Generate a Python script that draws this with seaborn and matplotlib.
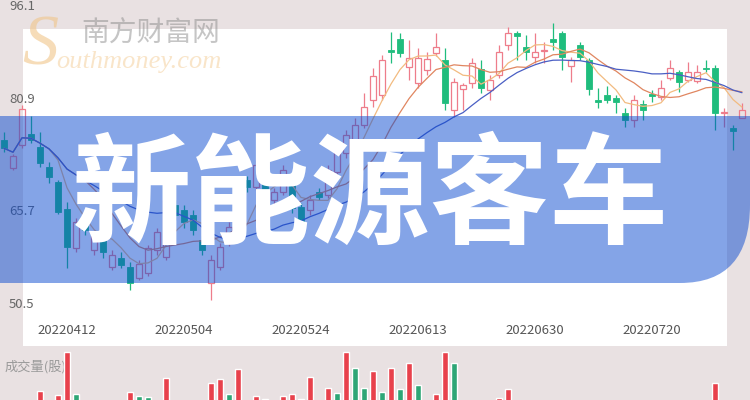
import matplotlib
matplotlib.use("Agg")
import matplotlib.pyplot as plt
import seaborn as sns
import pandas as pd
import numpy as np
from matplotlib.patches import Rectangle, PathPatch
from matplotlib.path import Path

sns.set_theme(style="white")
plt.rcParams['font.family'] = ['Noto Sans CJK SC', 'DejaVu Sans']

# daily candles (price)
opens = [75.7, 71.4, 74.9, 76.6, 74.6, 71.6, 69.3, 65.1, 59.2, 63.5,
         58.9, 60.4, 56.3, 57.7, 56.3, 54.6, 55.4, 58.9, 57.8, 65.8,
         65.0, 64.2, 60.4, 53.9, 56.3, 60.0, 62.2, 69.6, 68.5, 70.3,
         66.5, 67.7, 70.3, 65.5, 65.0, 67.7, 67.3, 70.8, 73.7, 74.9,
         77.9, 81.8, 82.5, 89.4, 91.1, 86.8, 84.4, 86.3, 88.9, 87.9,
         80.2, 83.4, 84.4, 86.5, 83.3, 85.6, 90.2, 92.0, 89.8, 88.3,
         89.2, 91.1, 92.0, 86.9, 90.2, 87.9, 81.8, 82.5, 82.1, 79.8,
         78.7, 81.2, 82.7, 82.2, 85.1, 86.0, 84.8, 84.7, 86.6, 86.6,
         79.8, 77.5, 79.0]
closes = [74.4, 73.2, 80.4, 75.7, 72.2, 70.0, 64.7, 59.3, 63.2, 61.9,
          61.0, 58.6, 58.1, 56.6, 53.9, 56.8, 59.2, 61.6, 66.5, 64.2,
          63.2, 61.9, 58.9, 57.4, 59.3, 62.4, 66.5, 68.5, 71.9, 68.0,
          67.7, 71.1, 65.3, 62.4, 66.5, 67.0, 71.1, 74.1, 76.4, 77.9,
          80.7, 85.4, 87.9, 89.1, 88.9, 88.2, 88.2, 88.0, 89.8, 81.3,
          84.5, 84.1, 87.4, 83.6, 84.8, 89.1, 92.0, 91.5, 89.1, 89.1,
          89.4, 90.6, 88.3, 87.9, 88.3, 83.4, 81.5, 81.8, 81.5, 78.7,
          81.8, 80.2, 82.4, 83.6, 86.6, 84.5, 86.0, 86.0, 86.5, 79.8,
          79.9, 77.0, 80.2]
highs = [76.9, 73.5, 81.0, 79.3, 76.9, 72.3, 69.6, 66.2, 63.8, 64.2,
         61.9, 61.0, 58.9, 58.6, 57.1, 57.4, 59.6, 62.2, 67.3, 66.5,
         65.8, 65.0, 61.0, 58.1, 60.0, 63.2, 67.3, 70.2, 72.6, 71.1,
         68.3, 71.9, 70.8, 66.1, 67.3, 68.3, 71.9, 74.9, 77.2, 79.0,
         82.8, 86.6, 88.6, 92.1, 92.0, 90.9, 89.7, 89.1, 92.0, 89.7,
         85.1, 84.4, 88.2, 87.9, 85.6, 90.2, 92.9, 92.3, 91.7, 92.0,
         90.6, 93.5, 92.3, 88.3, 90.6, 88.2, 83.6, 83.9, 82.5, 80.5,
         82.5, 81.8, 83.3, 84.8, 87.9, 86.3, 87.6, 87.1, 87.9, 87.1,
         80.5, 78.0, 81.3]
lows = [73.8, 71.1, 74.4, 75.2, 71.6, 69.1, 64.4, 56.1, 58.6, 61.2,
        58.1, 57.7, 55.8, 56.1, 52.8, 54.3, 54.9, 58.1, 57.4, 63.5,
        62.3, 61.2, 58.1, 51.3, 55.8, 59.5, 61.9, 67.7, 68.0, 67.3,
        65.9, 67.3, 64.5, 60.4, 64.2, 66.5, 66.8, 70.3, 72.9, 74.4,
        77.5, 80.7, 81.8, 87.4, 88.3, 84.8, 83.6, 85.6, 88.5, 80.2,
        79.2, 80.2, 83.6, 82.8, 81.8, 85.1, 89.4, 87.9, 87.9, 87.4,
        87.4, 89.4, 86.3, 84.5, 87.9, 82.5, 80.5, 81.3, 79.8, 77.6,
        77.6, 78.7, 81.5, 81.8, 84.8, 83.0, 84.5, 84.4, 86.0, 77.2,
        77.6, 74.1, 79.0]

# volume (only the top of the bars shows at the bottom edge)
volume = [40, 35, 45, 38, 59, 42, 55, 98, 56, 40,
          36, 38, 30, 33, 58, 54, 53, 44, 72, 40,
          45, 38, 35, 67, 71, 56, 81, 42, 54, 51,
          40, 54, 56, 51, 73, 40, 62, 57, 98, 82,
          62, 79, 58, 82, 61, 87, 65, 45, 56, 98,
          87, 42, 44, 40, 38, 52, 61, 40, 35, 30,
          28, 36, 45, 30, 28, 42, 32, 25, 27, 35,
          33, 26, 22, 28, 30, 27, 25, 24, 22, 67,
          40, 45, 35]
vol_dir = list("grrgrgrrgg" "rgrgrggrrg" "gggrrgrgrg" "rrrgrgrgrg" "grgrgrgrrr"
               "grrgrrrggr" "rggrgggggg" "rggrrgrrgr" "rgr")

date_labels = ["20220412", "20220504", "20220524", "20220613", "20220630", "20220720"]
date_pos = [7, 20, 33, 46, 59, 72]
price_ticks = [96.1, 80.9, 65.7, 50.5]

W, H = 750, 400
def fx(x):
    return x / W
def fy(y):
    return 1 - y / H

UP = '#ee7d8b'
DOWN = '#1fbd7d'

df = pd.DataFrame({'o': opens, 'c': closes, 'h': highs, 'l': lows})
df['idx'] = np.arange(len(df))
df['ma5'] = df['c'].rolling(5, min_periods=1).mean()
df['ma10'] = df['c'].rolling(10, min_periods=1).mean()
df['ma20'] = df['c'].rolling(20, min_periods=1).mean()

fig = plt.figure(figsize=(7.5, 4), dpi=100, facecolor='#e9e1e2')

# white card behind the chart
fig.add_artist(Rectangle((fx(23), fy(346)), fx(727) - fx(23), fy(29) - fy(346),
                         transform=fig.transFigure, facecolor='white', edgecolor='none', zorder=-2))

# watermark
fig.text(fx(40), fy(47), 'S', family='Liberation Serif', style='italic', fontsize=52,
         color='#f0c58a', alpha=0.6, ha='center', va='center', zorder=-1)
fig.text(fx(56), fy(62), 'outhmoney.com', family='Liberation Serif', style='italic', fontsize=19,
         color='#f5d4a6', alpha=0.6, ha='left', va='center', zorder=-1)
fig.text(fx(151), fy(34), '南方财富网', fontsize=20, color='#8c8c8c', alpha=0.5,
         ha='center', va='center', zorder=-1)

xlim = (-4 / 9, 746 / 9)

# price panel
ax = fig.add_axes([0, fy(305), 1, fy(6) - fy(305)])
ax.set_facecolor('none')
up = df['c'] >= df['o']
lo = np.minimum(df['o'], df['c'])
hi = np.maximum(df['o'], df['c'])
hgt = np.maximum(hi - lo, 0.15)
cols = np.where(up, UP, DOWN)
ax.vlines(df['idx'], df['l'], lo, colors=cols, linewidth=0.9)
ax.vlines(df['idx'], hi, df['h'], colors=cols, linewidth=0.9)
ax.bar(df['idx'][up], hgt[up], bottom=lo[up], width=0.68, facecolor='none', edgecolor=UP, linewidth=0.9)
ax.bar(df['idx'][~up], hgt[~up], bottom=lo[~up], width=0.72, facecolor=DOWN, edgecolor=DOWN, linewidth=0.6)

sns.lineplot(data=df, x='idx', y='ma5', ax=ax, color='#f2bb80', linewidth=0.9)
sns.lineplot(data=df, x='idx', y='ma10', ax=ax, color='#e08660', linewidth=0.9)
sns.lineplot(data=df, x='idx', y='ma20', ax=ax, color='#4a5fc4', linewidth=0.9)

ax.set_xlim(*xlim)
ax.set_ylim(50.5, 96.1)
ax.axis('off')

tick_va = ['center', 'bottom', 'top', 'center']
for val, va in zip(price_ticks, tick_va):
    ax.text(9 / W, val, f'{val:.1f}', transform=ax.get_yaxis_transform(), ha='left', va=va,
            fontsize=9.5, color='#666666')
for pos, lab in zip(date_pos, date_labels):
    ax.text(pos, (305 - 331) / 299, lab, transform=ax.get_xaxis_transform(), ha='center', va='center',
            fontsize=9.5, color='#555555')

# volume panel (runs off the bottom edge)
fig.text(fx(5), fy(367), '成交量(股)', fontsize=9.5, color='#9a9a9a', ha='left', va='center', zorder=-1)
vax = fig.add_axes([0, fy(450), 1, fy(350) - fy(450)])
vax.set_facecolor('none')
vdf = pd.DataFrame({'idx': np.arange(len(volume)), 'vol': volume, 'dir': vol_dir})
sns.barplot(data=vdf, x='idx', y='vol', hue='dir', palette={'r': '#e8414c', 'g': '#2ea676'},
            native_scale=True, dodge=False, width=0.62, saturation=1, errorbar=None, legend=False, ax=vax)
vax.set_xlim(*xlim)
vax.set_ylim(0, 100)
vax.axis('off')

# title banner
pts = [(0, 116), (750, 116), (750, 205), (750, 283), (680, 283), (0, 283), (0, 116)]
codes = [Path.MOVETO, Path.LINETO, Path.LINETO, Path.CURVE3, Path.CURVE3, Path.LINETO, Path.CLOSEPOLY]
banner = Path([(fx(x), fy(y)) for x, y in pts], codes)
fig.add_artist(PathPatch(banner, transform=fig.transFigure, facecolor='#0a4ad0', edgecolor='none',
                         alpha=0.5, zorder=5))
fig.text(fx(371), fy(199), '新能源客车', fontsize=86, fontweight='heavy', color='white',
         ha='center', va='center', zorder=6)

fig.savefig('out.png', dpi=100, facecolor=fig.get_facecolor())
